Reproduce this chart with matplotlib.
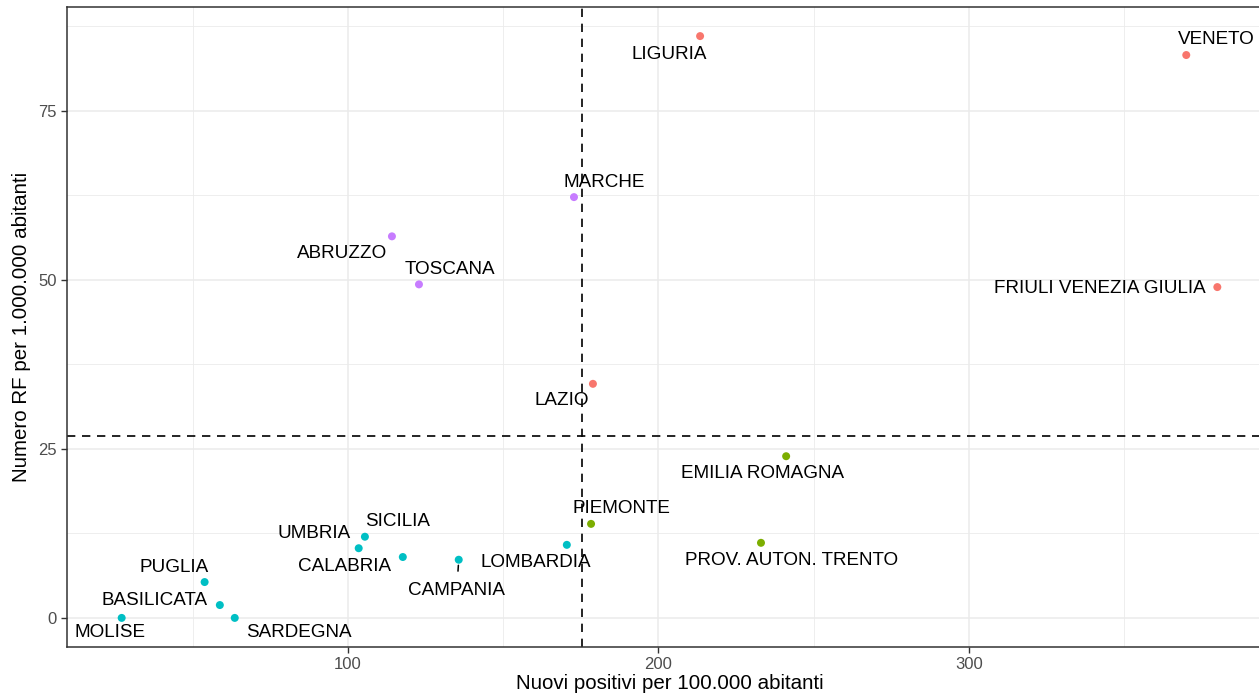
import matplotlib
matplotlib.use("Agg")
import matplotlib.pyplot as plt
from matplotlib.ticker import MultipleLocator

plt.rcParams["font.family"] = ["Liberation Sans", "DejaVu Sans"]

# data
regions = ["MOLISE", "PUGLIA", "BASILICATA", "SARDEGNA", "UMBRIA", "SICILIA",
           "CALABRIA", "CAMPANIA", "LOMBARDIA", "PIEMONTE", "PROV. AUTON. TRENTO",
           "EMILIA ROMAGNA", "LAZIO", "TOSCANA", "ABRUZZO", "MARCHE", "LIGURIA",
           "VENETO", "FRIULI VENEZIA GIULIA"]
positivi = [27.2, 53.9, 58.8, 63.6, 103.5, 105.5, 117.7, 135.7, 170.5, 178.3,
            233.0, 241.1, 178.9, 122.9, 114.2, 172.8, 213.4, 369.9, 379.9]
rf = [0.0, 5.3, 1.9, 0.0, 10.3, 12.0, 9.0, 8.6, 10.8, 13.9,
      11.1, 23.9, 34.6, 49.3, 56.4, 62.2, 86.0, 83.2, 48.9]
soglia_x = 175.4
soglia_y = 26.9

# label offsets in pixels (dx right, dy down), mimicking ggrepel placement
label_offsets = {
    "MOLISE": (-12, 15), "PUGLIA": (-30, -15), "BASILICATA": (-65, -5),
    "SARDEGNA": (64, 15), "UMBRIA": (-45, -15), "SICILIA": (33, -15),
    "CALABRIA": (-58, 9), "CAMPANIA": (-2, 31), "LOMBARDIA": (-31, 18),
    "PIEMONTE": (30, -15), "PROV. AUTON. TRENTO": (31, 18),
    "EMILIA ROMAGNA": (-24, 17), "LAZIO": (-31, 17), "TOSCANA": (31, -15),
    "ABRUZZO": (-50, 17), "MARCHE": (30, -15), "LIGURIA": (-31, 18),
    "VENETO": (30, -16), "FRIULI VENEZIA GIULIA": (-117, 1),
}
with_segment = {"CAMPANIA"}

# ggplot default hue palette, one colour per quadrant
quad_colors = {(True, True): "#F8766D", (True, False): "#7CAE00",
               (False, False): "#00BFC4", (False, True): "#C77CFF"}
colors = [quad_colors[(x > soglia_x, y > soglia_y)] for x, y in zip(positivi, rf)]

fig = plt.figure(figsize=(12.59, 6.98), dpi=100)
W, H = 1259, 698
ax = fig.add_axes([67 / W, 51 / H, (1272 - 67) / W, (647 - 7) / H])

ax.set_xlim(9.6, 397.5)
ax.set_ylim(-4.3, 90.3)
ax.xaxis.set_major_locator(MultipleLocator(100))
ax.xaxis.set_minor_locator(MultipleLocator(50))
ax.yaxis.set_major_locator(MultipleLocator(25))
ax.yaxis.set_minor_locator(MultipleLocator(12.5))
ax.grid(True, which="major", color="#EBEBEB", lw=1.1, zorder=0)
ax.grid(True, which="minor", color="#EBEBEB", lw=0.6, zorder=0)
ax.set_axisbelow(True)
for sp in ax.spines.values():
    sp.set_color("#333333")
    sp.set_linewidth(1.1)
ax.tick_params(which="major", length=4, width=1, color="#333333",
               labelsize=12, labelcolor="#4D4D4D", pad=3.5)
ax.tick_params(which="minor", length=0)

ax.scatter(positivi, rf, s=33, c=colors, edgecolors="none", zorder=3)
ax.axvline(soglia_x, color="black", lw=1.2, ls=(0, (5, 4)), zorder=2)
ax.axhline(soglia_y, color="black", lw=1.2, ls=(0, (5, 4)), zorder=2)

for name, x, y in zip(regions, positivi, rf):
    dx, dy = label_offsets[name]
    arrow = None
    if name in with_segment:
        arrow = dict(arrowstyle="-", color="black", lw=1.1, shrinkA=6, shrinkB=4)
    ax.annotate(name, (x, y), xytext=(dx, -dy), textcoords="offset pixels",
                ha="center", va="center", fontsize=13.6, color="black",
                arrowprops=arrow, zorder=4)

ax.set_xlabel("Nuovi positivi per 100.000 abitanti", fontsize=14.8)
ax.set_ylabel("Numero RF per 1.000.000 abitanti", fontsize=14.8)
ax.xaxis.set_label_coords(0.5, -(674 - 647) / 640)
ax.yaxis.set_label_coords(-(67 - 31) / 1205, 0.5)

fig.savefig("out.png", dpi=100)
